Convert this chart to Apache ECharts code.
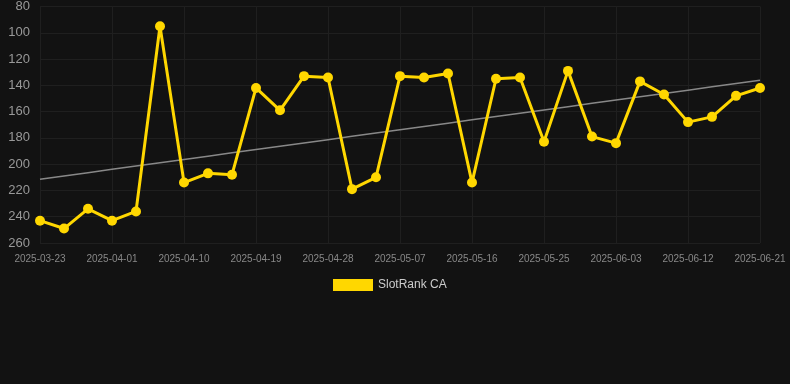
<!DOCTYPE html>
<html>
<head>
<meta charset="utf-8">
<script src="https://cdn.jsdelivr.net/npm/echarts@6/dist/echarts.min.js"></script>
<style>
  html, body { margin: 0; padding: 0; background: #121212; }
  #main { width: 790px; height: 384px; }
</style>
</head>
<body>
<div id="main"></div>
<script>
var dates = ['2025-03-23','2025-03-26','2025-03-29','2025-04-01','2025-04-04','2025-04-07','2025-04-10',
  '2025-04-13','2025-04-16','2025-04-19','2025-04-22','2025-04-25','2025-04-28','2025-05-01','2025-05-04',
  '2025-05-07','2025-05-10','2025-05-13','2025-05-16','2025-05-19','2025-05-22','2025-05-25','2025-05-28',
  '2025-05-31','2025-06-03','2025-06-06','2025-06-09','2025-06-12','2025-06-15','2025-06-18','2025-06-21'];
var ranks = [243, 249, 234, 243, 236, 95, 214, 207, 208, 142, 159, 133, 134, 219, 210,
  133, 134, 131, 214, 135, 134, 183, 129, 179, 184, 137, 147, 168, 164, 148, 142];

// least squares trend over the rank series
function trend(ys) {
  var n = ys.length, sx = 0, sy = 0, sxy = 0, sxx = 0;
  ys.forEach(function (y, i) { sx += i; sy += y; sxy += i * y; sxx += i * i; });
  var b = (n * sxy - sx * sy) / (n * sxx - sx * sx);
  var a = (sy - b * sx) / n;
  return ys.map(function (y, i) { return +(a + b * i).toFixed(2); });
}

var chart = echarts.init(document.getElementById('main'));
var option = {
  backgroundColor: '#121212',
  animation: false,
  grid: { left: 40, right: 30, top: 6, bottom: 141 },
  legend: {
    data: ['SlotRank CA'],
    top: 274,
    left: 328,
    icon: 'rect',
    itemWidth: 40,
    itemHeight: 12,
    itemGap: 10,
    textStyle: { color: '#cccccc', fontSize: 12 }
  },
  xAxis: {
    type: 'category',
    data: dates,
    boundaryGap: false,
    axisLine: { show: false },
    axisTick: { show: false },
    axisLabel: { interval: 2, color: '#888888', fontSize: 10, margin: 11 },
    splitLine: { show: true, interval: 2, lineStyle: { color: '#1f1f1f' } }
  },
  yAxis: {
    type: 'value',
    inverse: true,
    min: 80,
    max: 260,
    interval: 20,
    axisLine: { show: false },
    axisTick: { show: false },
    axisLabel: { color: '#999999', fontSize: 13, margin: 10 },
    splitLine: { lineStyle: { color: '#1f1f1f' } }
  },
  series: [
    {
      name: 'SlotRank CA',
      type: 'line',
      data: ranks,
      symbol: 'circle',
      symbolSize: 10,
      itemStyle: { color: '#FFD700' },
      lineStyle: { color: '#FFD700', width: 3 },
      z: 3
    },
    {
      name: 'Trend',
      type: 'line',
      data: trend(ranks),
      symbol: 'none',
      lineStyle: { color: '#888888', width: 1.5 },
      z: 2
    }
  ]
};
chart.setOption(option);
</script>
</body>
</html>
